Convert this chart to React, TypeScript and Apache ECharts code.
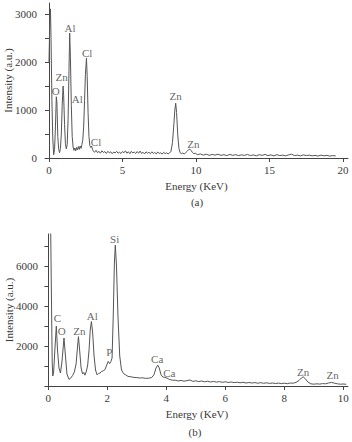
import React, { useEffect, useRef } from "react";
import * as echarts from "echarts";

// Spectrum (a): [energy keV, intensity a.u.]
const spectrumA: [number, number][] = [
  [0.0, 2000], [0.06, 2900], [0.1, 3117], [0.14, 2500], [0.2, 1200], [0.26, 400], [0.32, 70],
  [0.38, 180], [0.44, 650], [0.5, 1280], [0.54, 1150], [0.6, 450], [0.66, 180], [0.72, 110],
  [0.78, 200], [0.84, 500], [0.9, 1100], [0.96, 1505], [1.0, 1300], [1.06, 700], [1.12, 300],
  [1.18, 190], [1.24, 280], [1.3, 800], [1.36, 1800], [1.41, 2610], [1.46, 2100], [1.52, 1100],
  [1.58, 450], [1.64, 230], [1.7, 160], [1.76, 210], [1.82, 150], [1.88, 220], [1.94, 170],
  [2.0, 240], [2.06, 180], [2.12, 250], [2.18, 200], [2.24, 280], [2.3, 380], [2.36, 650],
  [2.42, 1200], [2.48, 1750], [2.55, 2086], [2.6, 1700], [2.66, 950], [2.72, 450], [2.78, 260],
  [2.84, 220], [2.9, 250], [2.96, 180],
  [3.0, 150], [3.1, 120], [3.2, 160], [3.3, 110], [3.4, 140], [3.5, 100], [3.6, 150], [3.7, 115],
  [3.8, 135], [3.9, 95], [4.0, 140], [4.1, 110], [4.2, 130], [4.3, 90], [4.4, 125], [4.5, 105],
  [4.6, 140], [4.7, 100], [4.8, 120], [4.9, 95], [5.0, 135], [5.1, 110], [5.2, 150], [5.3, 100],
  [5.4, 130], [5.5, 90], [5.6, 140], [5.7, 105], [5.8, 125], [5.9, 95], [6.0, 135], [6.1, 100],
  [6.2, 145], [6.3, 95], [6.4, 120], [6.5, 85], [6.6, 130], [6.7, 100], [6.8, 120], [6.9, 90],
  [7.0, 130], [7.1, 95], [7.2, 115], [7.3, 85], [7.4, 125], [7.5, 95], [7.6, 110], [7.7, 80],
  [7.8, 120], [7.9, 90], [8.0, 110], [8.1, 85], [8.2, 105], [8.3, 140],
  [8.4, 320], [8.5, 720], [8.56, 1000], [8.62, 1145], [8.68, 950], [8.76, 480], [8.84, 200],
  [8.92, 110], [9.0, 90], [9.1, 105], [9.2, 85], [9.3, 110], [9.4, 140], [9.5, 175], [9.58, 185],
  [9.66, 160], [9.75, 120], [9.85, 90], [9.95, 100], [10.1, 70], [10.3, 85], [10.5, 60],
  [10.7, 80], [10.9, 55], [11.1, 75], [11.3, 60], [11.5, 80], [11.7, 55], [11.9, 70], [12.1, 50],
  [12.3, 75], [12.5, 55], [12.7, 70], [12.9, 50], [13.1, 65], [13.3, 55], [13.5, 75], [13.7, 50],
  [13.9, 65], [14.1, 45], [14.3, 70], [14.5, 55], [14.7, 75], [14.9, 50], [15.1, 65], [15.3, 45],
  [15.5, 70], [15.7, 50], [15.9, 60], [16.1, 45], [16.3, 65], [16.5, 80], [16.7, 50], [16.9, 60],
  [17.1, 45], [17.3, 65], [17.5, 50], [17.7, 60], [17.9, 45], [18.1, 55], [18.3, 40], [18.5, 60],
  [18.7, 45], [18.9, 55], [19.1, 40], [19.3, 50], [19.5, 45],
];

// Spectrum (b)
const spectrumB: [number, number][] = [
  [0.02, 9000], [0.07, 9000], [0.1, 5000], [0.13, 1200], [0.15, 500], [0.18, 700], [0.22, 1800],
  [0.27, 3000], [0.31, 1800], [0.36, 900], [0.41, 650], [0.46, 1200], [0.53, 2400], [0.58, 1500],
  [0.63, 600], [0.7, 330], [0.76, 400], [0.82, 520], [0.88, 700], [0.94, 1100], [0.98, 1800],
  [1.02, 2470], [1.06, 1800], [1.11, 900], [1.16, 600], [1.2, 680], [1.24, 540], [1.28, 700],
  [1.33, 1000], [1.38, 1800], [1.42, 2800], [1.46, 3220], [1.5, 2700], [1.55, 1500], [1.6, 800],
  [1.65, 560], [1.7, 620], [1.75, 650], [1.8, 720], [1.86, 760], [1.92, 820], [1.98, 1050],
  [2.03, 1230], [2.08, 1120], [2.12, 1220], [2.16, 1400], [2.2, 3500], [2.24, 6200], [2.27, 7040],
  [2.31, 6000], [2.36, 3500], [2.42, 1500], [2.48, 800], [2.55, 620], [2.62, 560], [2.7, 480],
  [2.8, 460], [2.9, 430], [3.0, 420], [3.1, 400], [3.2, 410], [3.3, 380], [3.4, 390], [3.5, 420],
  [3.58, 560], [3.65, 900], [3.71, 1045], [3.76, 900], [3.82, 560], [3.88, 450], [3.95, 430],
  [4.02, 400], [4.1, 330], [4.2, 290],
  [4.3, 290], [4.4, 250], [4.5, 280], [4.6, 240], [4.7, 270], [4.8, 300], [4.9, 230], [5.0, 260],
  [5.1, 220], [5.2, 250], [5.3, 210], [5.4, 240], [5.5, 200], [5.6, 230], [5.7, 195], [5.8, 220],
  [5.9, 185], [6.0, 210], [6.1, 175], [6.2, 200], [6.3, 170], [6.4, 190], [6.5, 160], [6.6, 185],
  [6.7, 150], [6.8, 175], [6.9, 150], [7.0, 170], [7.1, 140], [7.2, 165], [7.3, 135], [7.4, 160],
  [7.5, 130], [7.6, 150], [7.7, 125], [7.8, 145], [7.9, 120], [8.0, 140], [8.1, 115], [8.2, 150],
  [8.3, 140], [8.4, 180], [8.5, 280], [8.58, 400], [8.64, 460], [8.7, 380], [8.8, 200], [8.9, 110],
  [9.0, 90], [9.1, 110], [9.2, 95], [9.3, 120], [9.4, 110], [9.5, 150], [9.6, 180], [9.7, 140],
  [9.8, 110], [9.9, 90], [10.0, 100], [10.1, 85],
];

// Peak labels: [text, energy, intensity]
const labelsA: [string, number, number][] = [
  ["Al", 1.43, 2720], ["Cl", 2.6, 2200], ["Zn", 0.86, 1690], ["O", 0.46, 1410],
  ["Al", 1.93, 1230], ["Cl", 3.2, 340], ["Zn", 8.62, 1300], ["Zn", 9.82, 290],
];
const labelsB: [string, number, number][] = [
  ["Si", 2.25, 7370], ["C", 0.31, 3400], ["O", 0.45, 2735], ["Zn", 1.05, 2735],
  ["Al", 1.49, 3485], ["P", 2.07, 1685], ["Ca", 3.69, 1370], ["Ca", 4.1, 650],
  ["Zn", 8.64, 700], ["Zn", 9.64, 535],
];

const xTicksA = [0, 5, 10, 15, 20];
const yTicksA = [0, 500, 1000, 1500, 2000, 2500, 3000];
const yLabelsA = [0, 1000, 2000, 3000];
const xTicksB = [0, 2, 4, 6, 8, 10];
const yTicksB = [0, 1000, 2000, 3000, 4000, 5000, 6000, 7000];
const yLabelsB = [2000, 4000, 6000];

const FONT = "'Liberation Serif', 'DejaVu Serif', serif";
const TEXT = "#3a3a3a";
const AXIS = "#444";

export default function App() {
  const ref = useRef<HTMLDivElement>(null);
  useEffect(() => {
    if (!ref.current) return;
    const chart = echarts.init(ref.current, undefined, { renderer: "svg" });
    const txt = { fontFamily: FONT, fontSize: 11, fontWeight: "normal", color: TEXT };
    const xAxisCommon = (gridIndex: number, min: number, max: number, ticks: number[], gap: number) => ({
      type: "value",
      gridIndex,
      min,
      max,
      name: "Energy (KeV)",
      nameLocation: "middle",
      nameGap: gap,
      nameMoveOverlap: false,
      nameTextStyle: { ...txt },
      axisLine: { show: true, onZero: false, lineStyle: { color: AXIS, width: 1 } },
      axisTick: { show: true, customValues: ticks, length: 4, lineStyle: { color: AXIS } },
      axisLabel: { customValues: ticks, ...txt, margin: 6, formatter: (v: number) => String(v) },
      splitLine: { show: false },
    });
    const yAxisCommon = (gridIndex: number, min: number, max: number, ticks: number[], labels: number[]) => ({
      type: "value",
      gridIndex,
      min,
      max,
      name: "Intensity (a.u.)",
      nameLocation: "middle",
      nameGap: 32,
      nameMoveOverlap: false,
      nameTextStyle: { ...txt },
      axisLine: { show: true, lineStyle: { color: AXIS, width: 1 } },
      axisTick: { show: true, customValues: ticks, length: 4, lineStyle: { color: AXIS } },
      axisLabel: { customValues: labels, ...txt, margin: 8, formatter: (v: number) => String(v) },
      splitLine: { show: false },
    });
    const labelSeries = (idx: number, labels: [string, number, number][]) => ({
      type: "scatter",
      xAxisIndex: idx,
      yAxisIndex: idx,
      symbolSize: 0,
      silent: true,
      itemStyle: { color: TEXT },
      data: labels.map(([t, x, y]) => ({ value: [x, y], name: t })),
      label: {
        show: true,
        position: "inside",
        formatter: (p: any) => p.name,
        ...txt,
        lineHeight: 11,
        textBorderWidth: 0,
        align: "center",
        verticalAlign: "middle",
      },
    });
    chart.setOption({
      animation: false,
      backgroundColor: "#fff",
      grid: [
        { left: 45, width: 303, top: 3, height: 155, containLabel: false, outerBoundsMode: "none" },
        { left: 46, width: 302, top: 234, height: 152, containLabel: false, outerBoundsMode: "none" },
      ],
      title: [
        { text: "(a)", left: 197, top: 196, textAlign: "center", textStyle: { ...txt }, padding: 0 },
        { text: "(b)", left: 195, top: 426, textAlign: "center", textStyle: { ...txt }, padding: 0 },
      ],
      xAxis: [
        xAxisCommon(0, -0.27, 20.34, xTicksA, 22),
        xAxisCommon(1, -0.08, 10.16, xTicksB, 22),
      ],
      yAxis: [
        yAxisCommon(0, 0, 3240, yTicksA, yLabelsA),
        yAxisCommon(1, 0, 7600, yTicksB, yLabelsB),
      ],
      series: [
        {
          type: "line",
          xAxisIndex: 0,
          yAxisIndex: 0,
          data: spectrumA,
          showSymbol: false,
          clip: true,
          lineStyle: { color: "#555", width: 1 },
        },
        {
          type: "line",
          xAxisIndex: 1,
          yAxisIndex: 1,
          data: spectrumB,
          showSymbol: false,
          clip: true,
          lineStyle: { color: "#555", width: 1 },
        },
        labelSeries(0, labelsA),
        labelSeries(1, labelsB),
      ],
    });
    return () => chart.dispose();
  }, []);
  return <div ref={ref} style={{ width: 352, height: 442, position: "absolute", left: 0, top: 0 }} />;
}
